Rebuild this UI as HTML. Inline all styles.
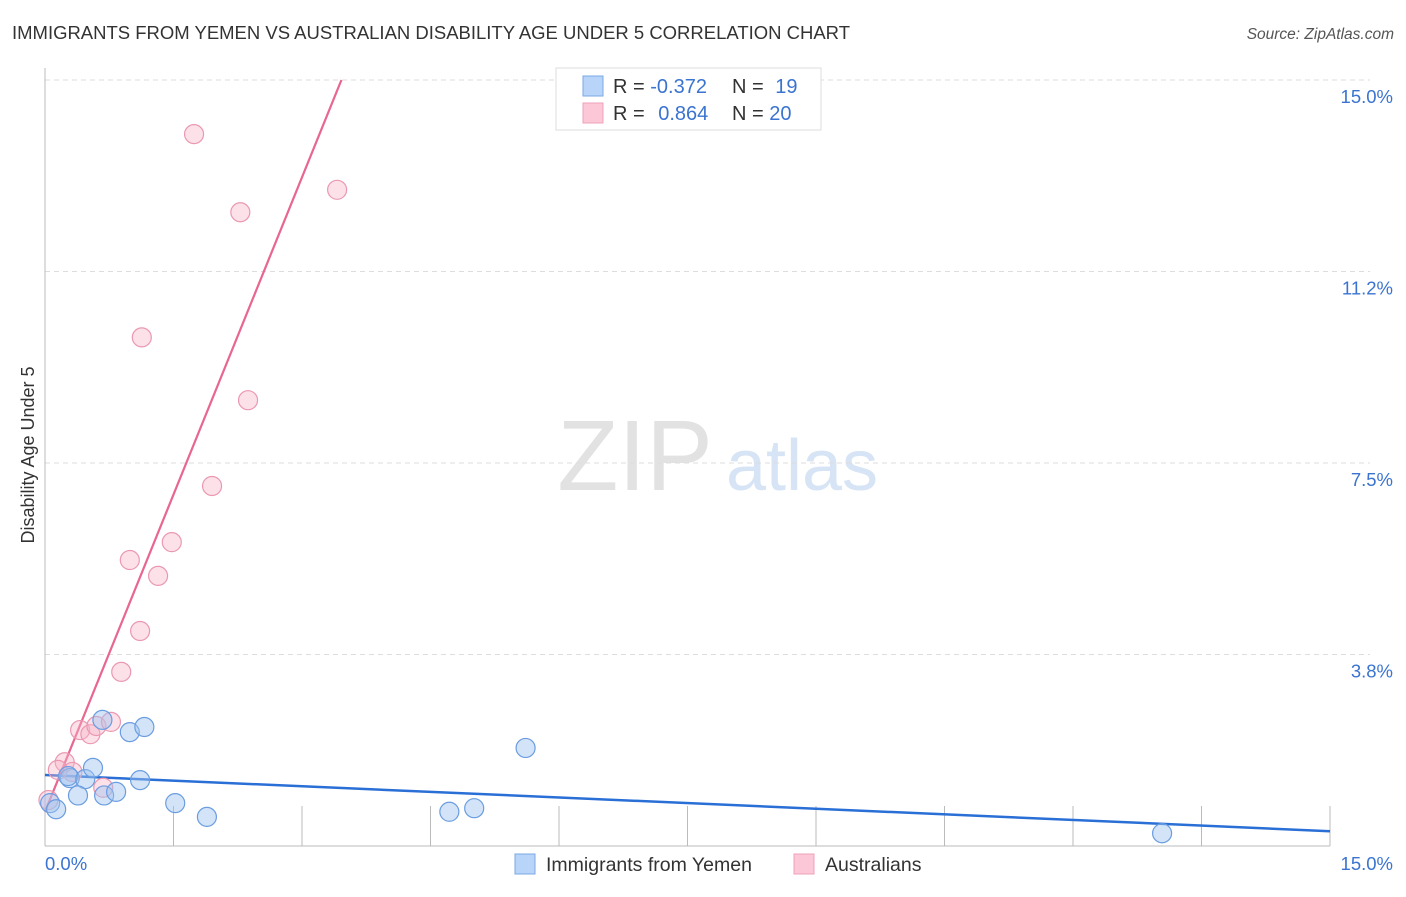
<!DOCTYPE html>
<html><head><meta charset="utf-8"><style>
body{margin:0;background:#fff;font-family:"Liberation Sans",sans-serif;}
svg text{font-family:"Liberation Sans",sans-serif;}
</style></head><body>
<svg id="chart" width="1406" height="892" viewBox="0 0 1406 892" xmlns="http://www.w3.org/2000/svg">
<text x="12" y="39" font-size="18" fill="#333" textLength="838" lengthAdjust="spacingAndGlyphs">IMMIGRANTS FROM YEMEN VS AUSTRALIAN DISABILITY AGE UNDER 5 CORRELATION CHART</text>
<text x="1394" y="39" font-size="15.5" fill="#555" text-anchor="end" font-style="italic">Source: ZipAtlas.com</text>
<g>
<text x="635" y="490" font-size="100" fill="#e2e2e2" text-anchor="middle" font-family="Liberation Serif">ZIP</text>
<text x="802" y="490" font-size="72" fill="#d6e4f5" text-anchor="middle">atlas</text>
</g>
<g id="grid"></g>
<g id="axes"></g>
<g id="lines"></g>
<g id="points"></g>
<text transform="translate(34,455) rotate(-90)" font-size="18" fill="#333" text-anchor="middle">Disability Age Under 5</text>
<g>
<rect x="556" y="68" width="265" height="62" fill="#fff" stroke="#ddd"/>
<rect x="583" y="76" width="20" height="20" fill="#b8d4f8" stroke="#7aaae6"/>
<rect x="583" y="103" width="20" height="20" fill="#fcc8d8" stroke="#eea0b8"/>
<text x="613" y="93" font-size="20" fill="#333">R = <tspan fill="#3a74d0">-0.372</tspan></text>
<text x="732" y="93" font-size="20" fill="#333">N = <tspan fill="#3a74d0" dx="6">19</tspan></text>
<text x="613" y="120" font-size="20" fill="#333">R = <tspan fill="#3a74d0" dx="8">0.864</tspan></text>
<text x="732" y="120" font-size="20" fill="#333">N = <tspan fill="#3a74d0">20</tspan></text>
</g>
<g>
<rect x="515" y="854" width="20" height="20" fill="#b8d4f8" stroke="#7aaae6"/>
<text x="546" y="871" font-size="19.5" fill="#333">Immigrants from Yemen</text>
<rect x="794" y="854" width="20" height="20" fill="#fcc8d8" stroke="#eea0b8"/>
<text x="825" y="871" font-size="19.5" fill="#333">Australians</text>
</g>
</svg>
<script>
const yTicks=[3.75,7.5,11.25,15];
const yTickLabels=["3.8%","7.5%","11.2%","15.0%"];
const xTickLabels=["0.0%","15.0%"];
const blueX=[0.06,0.13,0.29,0.27,0.47,0.385,0.56,0.69,0.83,0.67,0.99,1.16,1.11,1.52,1.89,4.72,5.01,5.61,13.04];
const blueY=[0.84,0.72,1.33,1.37,1.31,0.99,1.53,0.99,1.06,2.47,2.23,2.33,1.29,0.84,0.57,0.67,0.74,1.92,0.25];
const pinkX=[1.74,3.41,2.28,1.13,2.37,1.95,1.48,0.99,1.32,1.11,0.89,0.41,0.53,0.60,0.77,0.23,0.15,0.32,0.68,0.04];
const pinkY=[13.94,12.85,12.41,9.96,8.73,7.05,5.95,5.60,5.29,4.21,3.41,2.27,2.19,2.35,2.43,1.64,1.49,1.45,1.14,0.90];
const blueLine=[0,1.39,15,0.29];
const pinkLine=[0,0.67,3.46,15];

const NS="http://www.w3.org/2000/svg";
const X0=45,X1=1330,Y0=846,Y1=80;
const sx=v=>X0+(X1-X0)*v/15;
const sy=v=>Y0-(Y0-Y1)*v/15;
function mk(tag,attrs,parent){const e=document.createElementNS(NS,tag);for(const k in attrs)e.setAttribute(k,attrs[k]);parent.appendChild(e);return e;}
const grid=document.getElementById('grid'),axes=document.getElementById('axes'),lines=document.getElementById('lines'),pts=document.getElementById('points');
yTicks.forEach((t,i)=>{
 const l=mk('line',{x1:X0,x2:X1+40,y1:sy(t),y2:sy(t),stroke:'#ddd','stroke-dasharray':'5,4'},grid);
 
 
 const tx=mk('text',{x:1393,y:sy(t)+23,'font-size':18.5,fill:'#3a74d0','text-anchor':'end'},grid);
 tx.textContent=yTickLabels[i];
 
 
});
const ya=mk('line',{x1:X0,x2:X0,y1:68,y2:Y0,stroke:'#bbb'},axes);


const xa=mk('line',{x1:X0,x2:X1,y1:Y0,y2:Y0,stroke:'#bbb'},axes);


for(let i=1;i<=10;i++){
 const t=mk('line',{x1:sx(i*1.5),x2:sx(i*1.5),y1:806,y2:Y0,stroke:'#bbb'},axes);
 
 
}
[[0,'start',45],[15,'end',1393]].forEach((d,i)=>{
 const tx=mk('text',{x:d[2],y:870,'font-size':18.5,fill:'#3a74d0','text-anchor':d[1]},axes);
 tx.textContent=xTickLabels[i];
 
 
});
function drawPts(xs,ys,fill,stroke,name){
 xs.forEach((x,i)=>{
  const c=mk('circle',{cx:sx(x),cy:sy(ys[i]),r:9.5,fill:fill,stroke:stroke,'stroke-width':1.2},pts);
  
  
 });
}
drawPts(pinkX,pinkY,'rgba(248,180,200,0.4)','#ea98b2','point-australians');
drawPts(blueX,blueY,'rgba(160,196,240,0.45)','#6a9de0','point-yemen');
const bl=mk('line',{x1:sx(blueLine[0]),y1:sy(blueLine[1]),x2:sx(blueLine[2]),y2:sy(blueLine[3]),stroke:'#2a6fd6','stroke-width':2.5},lines);


const pl=mk('line',{x1:sx(pinkLine[0]),y1:sy(pinkLine[1]),x2:sx(pinkLine[2]),y2:sy(pinkLine[3]),stroke:'#e8668f','stroke-width':2.2},lines);


</script>
</body></html>
